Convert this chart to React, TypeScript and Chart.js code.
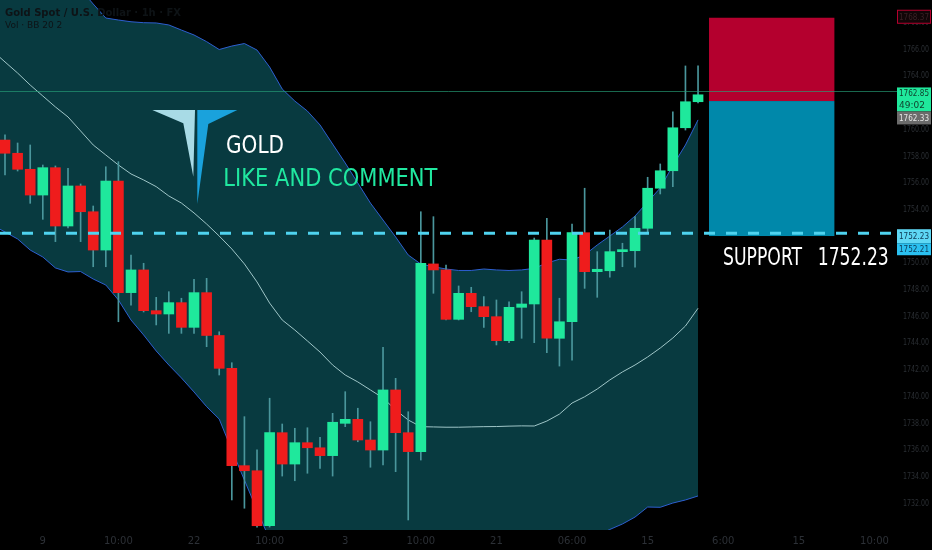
import React, { useEffect, useRef } from 'react';
import { Chart, registerables } from 'chart.js';

Chart.register(...registerables);

// ---- Data (hourly XAUUSD candles) ----
const opens = [
  1759.21, 1758.22, 1757.02, 1755.09, 1757.14, 1752.77, 1755.77, 1753.84, 1750.97, 1756.14,
  1747.78, 1749.48, 1746.43, 1746.18, 1747.03, 1745.18, 1747.78, 1744.57, 1742.11, 1734.82,
  1734.44, 1730.32, 1737.29, 1734.94, 1736.54, 1736.16, 1735.57, 1737.99, 1738.29, 1736.74,
  1735.99, 1740.49, 1737.29, 1735.87, 1749.93, 1749.48, 1745.78, 1747.73, 1746.73, 1745.98,
  1744.18, 1746.68, 1746.93, 1751.72, 1744.36, 1745.6, 1752.27, 1749.35, 1749.42, 1750.85,
  1750.92, 1752.6, 1755.6, 1756.91, 1760.13, 1762.08,
];
const highs = [
  1759.6, 1758.99, 1758.84, 1757.34, 1757.27, 1757.09, 1755.92, 1754.27, 1757.21, 1757.59,
  1750.6, 1749.98, 1747.43, 1747.85, 1747.36, 1748.78, 1748.85, 1744.85, 1742.53, 1738.49,
  1736.0, 1739.87, 1737.94, 1737.62, 1737.66, 1736.94, 1738.74, 1740.36, 1739.12, 1738.11,
  1743.69, 1741.36, 1738.86, 1753.84, 1753.47, 1749.85, 1748.28, 1748.18, 1747.48, 1747.23,
  1747.1, 1747.85, 1751.87, 1753.35, 1747.36, 1752.92, 1755.6, 1750.85, 1752.47, 1751.48,
  1753.47, 1756.42, 1757.42, 1761.33, 1764.76, 1764.76,
];
const lows = [
  1756.59, 1756.89, 1754.47, 1753.27, 1751.6, 1752.62, 1751.6, 1749.72, 1749.72, 1745.6,
  1746.85, 1746.33, 1745.36, 1744.73, 1744.73, 1744.73, 1743.73, 1741.61, 1732.25, 1731.63,
  1730.22, 1730.22, 1734.04, 1733.69, 1734.25, 1734.62, 1734.04, 1737.74, 1736.61, 1734.7,
  1734.87, 1734.37, 1730.75, 1735.24, 1747.73, 1745.73, 1745.73, 1746.35, 1745.18, 1743.86,
  1744.03, 1744.36, 1744.03, 1743.28, 1742.28, 1742.73, 1748.1, 1747.43, 1748.93, 1749.72,
  1749.68, 1752.22, 1755.17, 1755.72, 1759.96, 1762.0,
];
const closes = [
  1758.22, 1757.02, 1755.09, 1757.14, 1752.77, 1755.77, 1753.84, 1750.97, 1756.14, 1747.78,
  1749.48, 1746.43, 1746.18, 1747.03, 1745.18, 1747.78, 1744.57, 1742.11, 1734.82, 1734.44,
  1730.32, 1737.29, 1734.94, 1736.54, 1736.16, 1735.57, 1738.07, 1738.29, 1736.74, 1735.99,
  1740.49, 1737.29, 1735.87, 1749.98, 1749.48, 1745.78, 1747.73, 1746.73, 1745.98, 1744.18,
  1746.68, 1746.93, 1751.72, 1744.36, 1745.6, 1752.27, 1749.35, 1749.53, 1750.85, 1750.97,
  1752.6, 1755.6, 1756.91, 1760.13, 1762.08, 1762.6,
];

// Bollinger Bands (20, 2) — first value belongs to the bar just left of the view
const BAND_START_INDEX = -1;
const bbUpper = [
  1773.5,
  1773.2, 1773.0, 1772.7, 1772.3, 1771.8, 1771.2, 1770.5, 1769.4, 1768.35, 1768.2,
  1768.07, 1768.0, 1767.98, 1767.83, 1767.45, 1767.08, 1766.58, 1765.99, 1766.25, 1766.44,
  1765.95, 1764.68, 1763.03, 1762.13, 1761.38, 1760.34, 1758.91, 1757.49, 1755.99, 1754.49,
  1753.22, 1751.95, 1750.6, 1749.92, 1749.72, 1749.55, 1749.44, 1749.44, 1749.55, 1749.48,
  1749.44, 1749.48, 1749.6, 1750.0, 1750.28, 1750.22, 1750.6, 1751.35, 1752.02, 1752.7,
  1753.52, 1754.57, 1755.62, 1757.3, 1758.84, 1760.72,
];
const bbBasis = [
  1765.9,
  1765.06, 1764.23, 1763.33, 1762.51, 1761.69, 1760.94, 1759.89, 1758.84, 1758.09, 1757.34,
  1756.67, 1756.22, 1755.72, 1755.02, 1754.49, 1753.75, 1752.92, 1752.02, 1751.05, 1749.93,
  1748.58, 1747.0, 1745.73, 1744.98, 1744.16, 1743.33, 1742.36, 1741.61, 1741.09, 1740.49,
  1739.89, 1738.99, 1738.24, 1737.74, 1737.72, 1737.7, 1737.7, 1737.72, 1737.74, 1737.75,
  1737.78, 1737.8, 1737.79, 1738.16, 1738.68, 1739.51, 1739.98, 1740.56, 1741.24, 1741.84,
  1742.36, 1742.96, 1743.63, 1744.38, 1745.28, 1746.61,
];
const bbLower = [
  1752.85,
  1752.32, 1751.8, 1750.97, 1750.45, 1749.63, 1749.33, 1749.36, 1748.8, 1748.35, 1747.23,
  1745.73, 1744.61, 1743.41, 1742.36, 1741.39, 1740.34, 1739.24, 1738.31, 1735.99, 1733.74,
  1731.5, 1729.3, 1728.4, 1727.8, 1726.9, 1726.3, 1725.8, 1725.7, 1726.2, 1726.5,
  1726.6, 1726.0, 1725.9, 1725.6, 1725.7, 1725.85, 1725.96, 1726.0, 1725.93, 1726.0,
  1726.1, 1726.1, 1726.0, 1726.3, 1727.1, 1728.0, 1728.9, 1729.6, 1730.04, 1730.45,
  1730.97, 1731.72, 1731.7, 1732.02, 1732.25, 1732.55,
];

const xTickIndices = [3, 9, 15, 21, 27, 33, 39, 45, 51, 57, 63, 69];
const xTickLabels = ['9', '10:00', '22', '10:00', '3', '10:00', '21', '06:00', '15', '6:00', '15', '10:00'];
const yTickValues = [1732, 1734, 1736, 1738, 1740, 1742, 1744, 1746, 1748, 1750, 1752, 1754, 1756, 1758, 1760, 1762, 1764, 1766, 1768];

const PRICE_MIN = 1730;
const PRICE_MAX = 1769.7;
const X_MIN = -0.397;
const X_MAX = 69.44;

const SUPPORT_PRICE = 1752.23;
const SUPPORT_PRICE_2 = 1752.21;
const LAST_PRICE = 1762.85;
const PREV_PRICE = 1762.33;
const COUNTDOWN = '49:02';
const POSITION_STOP = 1768.37;
const POSITION_ENTRY = 1762.13;
const POSITION_TARGET = 1752.02;
const POSITION_FROM = 55.87;
const POSITION_TO = 65.82;

const TITLE_TEXT = 'GOLD';
const SUB_TEXT = 'LIKE AND COMMENT';
const SUPPORT_WORD = 'SUPPORT';
const LEGEND_1 = 'Gold Spot / U.S. Dollar · 1h · FX';
const LEGEND_2 = 'Vol · BB 20 2';

const BULL = '#1fe89c';
const BEAR = '#ef1c1c';

const NARROW = '"Liberation Sans Narrow", "DejaVu Sans Condensed", "Open Sans", sans-serif';
const AXIS_FONT = '"DejaVu Sans", sans-serif';

const overlay = {
  id: 'overlay',
  beforeDraw(chart: any) {
    const { ctx, width, height } = chart;
    ctx.save();
    ctx.fillStyle = '#000000';
    ctx.fillRect(0, 0, width, height);
    ctx.restore();
  },
  afterDatasetsDraw(chart: any) {
    const { ctx, scales, chartArea } = chart;
    const x = scales.x;
    const y = scales.y;
    ctx.save();

    // axis tick labels (dim, TradingView style)
    ctx.font = `9px ${AXIS_FONT}`;
    ctx.fillStyle = '#2a2e33';
    ctx.textBaseline = 'middle';
    ctx.textAlign = 'left';
    yTickValues.forEach((v) => {
      ctx.fillText(v.toFixed(2), 903, y.getPixelForValue(v), 26);
    });
    ctx.textAlign = 'center';
    ctx.font = `10px ${AXIS_FONT}`;
    ctx.fillStyle = '#2c3036';
    xTickIndices.forEach((v, i) => {
      ctx.fillText(xTickLabels[i], x.getPixelForValue(v), chartArea.bottom + 11);
    });

    // position box
    const bx1 = x.getPixelForValue(POSITION_FROM);
    const bx2 = x.getPixelForValue(POSITION_TO);
    const yStop = y.getPixelForValue(POSITION_STOP);
    const yEntry = y.getPixelForValue(POSITION_ENTRY);
    const yTarget = y.getPixelForValue(POSITION_TARGET);
    ctx.fillStyle = '#b4002e';
    ctx.fillRect(bx1, yStop, bx2 - bx1, yEntry - yStop);
    ctx.fillStyle = '#0088aa';
    ctx.fillRect(bx1, yEntry, bx2 - bx1, yTarget - yEntry);

    const axisX = 897;

    // last price line
    const yLast = y.getPixelForValue(LAST_PRICE);
    ctx.strokeStyle = 'rgba(38,160,120,0.65)';
    ctx.lineWidth = 1;
    ctx.beginPath();
    ctx.moveTo(0, Math.round(yLast) + 0.5);
    ctx.lineTo(axisX, Math.round(yLast) + 0.5);
    ctx.stroke();

    // support dashed line
    const ySup = y.getPixelForValue(SUPPORT_PRICE);
    ctx.strokeStyle = '#4fd3ef';
    ctx.lineWidth = 3;
    ctx.setLineDash([11, 11]);
    ctx.beginPath();
    ctx.moveTo(0, ySup);
    ctx.lineTo(axisX, ySup);
    ctx.stroke();
    ctx.setLineDash([]);

    // logo
    const lx = x.getPixelForValue(11.69);
    const ly = y.getPixelForValue(1761.46);
    ctx.fillStyle = '#a8dbe6';
    ctx.beginPath();
    ctx.moveTo(lx, ly);
    ctx.lineTo(lx + 42.7, ly);
    ctx.lineTo(lx + 41, ly + 66.7);
    ctx.lineTo(lx + 31, ly + 13.3);
    ctx.closePath();
    ctx.fill();
    ctx.fillStyle = '#1aa2dc';
    ctx.beginPath();
    ctx.moveTo(lx + 45, ly);
    ctx.lineTo(lx + 85, ly);
    ctx.lineTo(lx + 56, ly + 14);
    ctx.lineTo(lx + 45, ly + 94);
    ctx.closePath();
    ctx.fill();

    // texts
    ctx.textBaseline = 'alphabetic';
    ctx.textAlign = 'left';
    ctx.font = `25px ${NARROW}`;
    ctx.fillStyle = '#ffffff';
    ctx.fillText(TITLE_TEXT, x.getPixelForValue(17.54), y.getPixelForValue(1758.24), 58);
    ctx.fillStyle = '#20e8a0';
    ctx.fillText(SUB_TEXT, x.getPixelForValue(17.33), y.getPixelForValue(1755.77), 214);

    ctx.font = `24px ${NARROW}`;
    ctx.fillStyle = '#ffffff';
    const ySupText = y.getPixelForValue(1749.85);
    ctx.fillText(SUPPORT_WORD, x.getPixelForValue(56.98), ySupText, 79);
    ctx.fillText(SUPPORT_PRICE.toFixed(2), x.getPixelForValue(64.5), ySupText, 71);

    // legend (dim)
    ctx.font = `bold 10px ${AXIS_FONT}`;
    ctx.fillStyle = '#0e1316';
    ctx.fillText(LEGEND_1, 5, 16);
    ctx.font = `9px ${AXIS_FONT}`;
    ctx.fillText(LEGEND_2, 5, 28);

    // right axis price labels
    const boxW = 34;
    const box = (top: number, h: number, fill: string, lines: string[], color: string, border?: string) => {
      ctx.fillStyle = fill;
      ctx.fillRect(axisX, top, boxW, h);
      if (border) {
        ctx.strokeStyle = border;
        ctx.lineWidth = 1;
        ctx.strokeRect(axisX + 0.5, top + 0.5, boxW - 1, h - 1);
      }
      ctx.fillStyle = color;
      ctx.font = `9px ${AXIS_FONT}`;
      ctx.textBaseline = 'middle';
      ctx.textAlign = 'left';
      const lh = h / lines.length;
      lines.forEach((t, i) => ctx.fillText(t, axisX + 2, top + lh * i + lh / 2 + 0.5, boxW - 4));
    };
    box(yStop - 8, 14, '#120608', [POSITION_STOP.toFixed(2)], '#3a2226', '#b4002e');
    box(yLast - 4, 24, '#1fe89c', [LAST_PRICE.toFixed(2), COUNTDOWN], '#0f3d2b');
    box(yLast + 20, 13, '#6b6b6b', [PREV_PRICE.toFixed(2)], '#e6e6e6');
    box(ySup - 4, 14, '#5fd8f5', [SUPPORT_PRICE.toFixed(2)], '#0d3a55');
    box(ySup + 10, 12, '#2ac0f0', [SUPPORT_PRICE_2.toFixed(2)], '#0d3a55');

    ctx.restore();
  },
};

export default function App() {
  const canvasRef = useRef<HTMLCanvasElement | null>(null);

  useEffect(() => {
    document.body.style.margin = '0';
    document.body.style.background = '#000';
    const canvas = canvasRef.current;
    if (!canvas) return;

    const idx = opens.map((_, i) => i);
    const bodyData = idx.map((i) => ({ x: i, y: [opens[i], closes[i]] }));
    const wickData = idx.map((i) => ({ x: i, y: [lows[i], highs[i]] }));
    const bodyColors = idx.map((i) => (closes[i] >= opens[i] ? BULL : BEAR));
    const band = (arr: number[]) => arr.map((v, i) => ({ x: i + BAND_START_INDEX, y: v }));

    const chart = new Chart(canvas, {
      type: 'bar',
      data: {
        datasets: [
          {
            type: 'bar',
            label: 'Body',
            data: bodyData as any,
            backgroundColor: bodyColors,
            borderWidth: 0,
            barThickness: 10,
            minBarLength: 2,
            grouped: false,
            order: 0,
          },
          {
            type: 'bar',
            label: 'Wick',
            data: wickData as any,
            backgroundColor: '#4a969c',
            borderWidth: 0,
            barThickness: 1,
            grouped: false,
            order: 1,
          },
          {
            type: 'line',
            label: 'Basis',
            data: band(bbBasis),
            borderColor: '#9fc6c8',
            borderWidth: 1,
            pointRadius: 0,
            fill: false,
            order: 2,
          },
          {
            type: 'line',
            label: 'Upper',
            data: band(bbUpper),
            borderColor: '#2d5fd0',
            borderWidth: 1,
            pointRadius: 0,
            fill: '+1',
            backgroundColor: '#083a40',
            order: 3,
          },
          {
            type: 'line',
            label: 'Lower',
            data: band(bbLower),
            borderColor: '#2d5fd0',
            borderWidth: 1,
            pointRadius: 0,
            fill: false,
            order: 4,
          },
        ],
      },
      options: {
        animation: false,
        responsive: false,
        devicePixelRatio: 1,
        layout: { padding: { left: 0, top: 0, right: 52, bottom: 20 } },
        plugins: {
          legend: { display: false },
          tooltip: { enabled: false },
          filler: { drawTime: 'beforeDatasetsDraw' } as any,
        },
        scales: {
          x: {
            type: 'linear',
            display: false,
            min: X_MIN,
            max: X_MAX,
            offset: false,
          },
          y: {
            type: 'linear',
            display: false,
            position: 'right',
            min: PRICE_MIN,
            max: PRICE_MAX,
          },
        },
      },
      plugins: [overlay],
    });

    return () => chart.destroy();
  }, []);

  return (
    <div style={{ position: 'absolute', left: 0, top: 0, width: 932, height: 550, background: '#000' }}>
      <canvas ref={canvasRef} width={932} height={550} style={{ display: 'block', width: 932, height: 550 }} />
    </div>
  );
}
